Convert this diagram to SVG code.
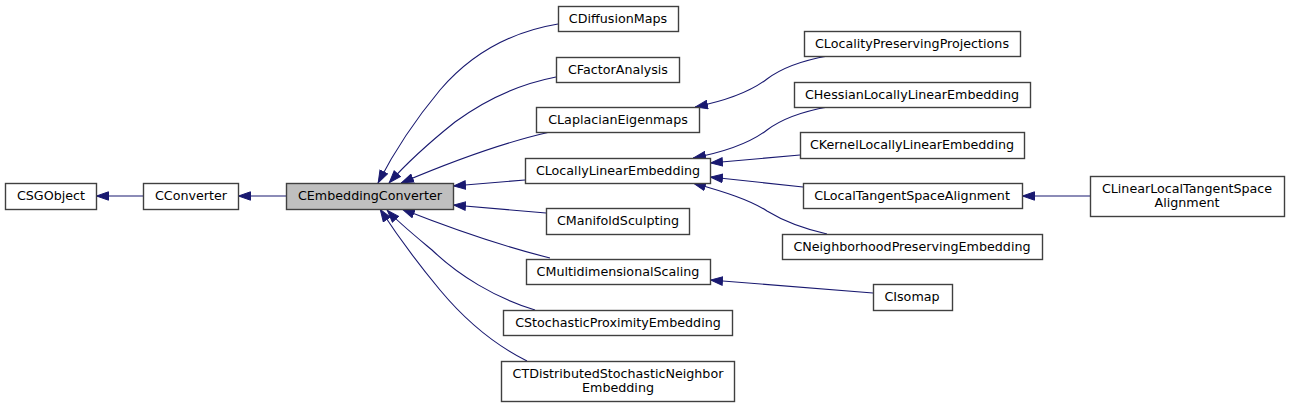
<svg xmlns="http://www.w3.org/2000/svg" width="1289" height="407" viewBox="0 0 1289 407">
<style>
.n rect{fill:#ffffff;stroke:#404040;stroke-width:1.4}
.n text{font-family:"DejaVu Sans",sans-serif;font-size:12.7px;fill:#000;text-anchor:middle}
#edges path{fill:none;stroke:#191970;stroke-width:1.1;marker-end:url(#a)}
</style>
<defs>
<marker id="a" viewBox="0 0 13 10" refX="13" refY="5" markerWidth="13" markerHeight="10" markerUnits="userSpaceOnUse" orient="auto">
<path d="M0.5,0.8 L12.5,5 L0.5,9.2 z" fill="#191970" stroke="#191970" stroke-width="1"/>
</marker>
</defs>
<rect width="1289" height="407" fill="#ffffff"/>
<g id="edges">
<path d="M143,196 L96,196"/>
<path d="M286,196 L238,196"/>
<path d="M558,24 C510,32 470,55 440,90 C415,120 395,150 378,183"/>
<path d="M556,77 C520,84 485,100 455,122 C430,142 405,165 389,183"/>
<path d="M550,132 C510,141 460,158 401,183"/>
<path d="M525,180 L453,186"/>
<path d="M546,213 L453,205"/>
<path d="M550,258 C510,248 460,232 402,209"/>
<path d="M535,310 C495,298 458,275 432,250 C414,235 398,222 387,210"/>
<path d="M527,361 C495,345 465,320 440,290 C415,260 395,232 380,209"/>
<path d="M828,56 C805,60 783,67 767,79 C750,92 725,101 695,107"/>
<path d="M828,107 C805,111 783,118 767,130 C750,143 725,152 693,158"/>
<path d="M800,155 L710,163"/>
<path d="M803,187 L710,177"/>
<path d="M827,234 C805,229 785,222 767,211 C750,200 725,192 693,183"/>
<path d="M1090,196 L1022,196"/>
<path d="M873,293 L710,280"/>
</g>
<g id="CSGObject" class="n"><rect x="5.5" y="183.5" width="91" height="26"/><text x="51" y="200">CSGObject</text></g>
<g id="CConverter" class="n"><rect x="143.5" y="183.5" width="95" height="26"/><text x="191" y="200">CConverter</text></g>
<g id="CEmbeddingConverter" class="n"><rect x="286.5" y="183.5" width="167" height="26" style="fill:#bfbfbf"/><text x="370" y="200">CEmbeddingConverter</text></g>
<g id="CDiffusionMaps" class="n"><rect x="558.5" y="6.5" width="120" height="25"/><text x="618" y="23">CDiffusionMaps</text></g>
<g id="CFactorAnalysis" class="n"><rect x="556.5" y="57.5" width="123" height="25"/><text x="618" y="74">CFactorAnalysis</text></g>
<g id="CLaplacianEigenmaps" class="n"><rect x="536.5" y="107.5" width="163" height="25"/><text x="618" y="124">CLaplacianEigenmaps</text></g>
<g id="CLocallyLinearEmbedding" class="n"><rect x="525.5" y="158.5" width="185" height="25"/><text x="618" y="175">CLocallyLinearEmbedding</text></g>
<g id="CManifoldSculpting" class="n"><rect x="546.5" y="208.5" width="143" height="26"/><text x="618" y="225">CManifoldSculpting</text></g>
<g id="CMultidimensionalScaling" class="n"><rect x="526.5" y="259.5" width="184" height="25"/><text x="618" y="276">CMultidimensionalScaling</text></g>
<g id="CStochasticProximityEmbedding" class="n"><rect x="503.5" y="310.5" width="229" height="25"/><text x="618" y="327">CStochasticProximityEmbedding</text></g>
<g id="CTDistributedStochasticNeighborEmbedding" class="n"><rect x="501.5" y="361.5" width="233" height="40"/><text x="618" y="378">CTDistributedStochasticNeighbor</text><text x="618" y="392">Embedding</text></g>
<g id="CLocalityPreservingProjections" class="n"><rect x="804.5" y="31.5" width="216" height="25"/><text x="912" y="48">CLocalityPreservingProjections</text></g>
<g id="CHessianLocallyLinearEmbedding" class="n"><rect x="794.5" y="82.5" width="236" height="25"/><text x="912" y="99">CHessianLocallyLinearEmbedding</text></g>
<g id="CKernelLocallyLinearEmbedding" class="n"><rect x="800.5" y="132.5" width="224" height="26"/><text x="912" y="149">CKernelLocallyLinearEmbedding</text></g>
<g id="CLocalTangentSpaceAlignment" class="n"><rect x="803.5" y="183.5" width="219" height="25"/><text x="912" y="200">CLocalTangentSpaceAlignment</text></g>
<g id="CNeighborhoodPreservingEmbedding" class="n"><rect x="782.5" y="234.5" width="260" height="25"/><text x="912" y="251">CNeighborhoodPreservingEmbedding</text></g>
<g id="CLinearLocalTangentSpaceAlignment" class="n"><rect x="1090.5" y="176.5" width="194" height="40"/><text x="1187" y="193">CLinearLocalTangentSpace</text><text x="1187" y="207">Alignment</text></g>
<g id="CIsomap" class="n"><rect x="873.5" y="284.5" width="79" height="26"/><text x="912" y="301">CIsomap</text></g>
</svg>
